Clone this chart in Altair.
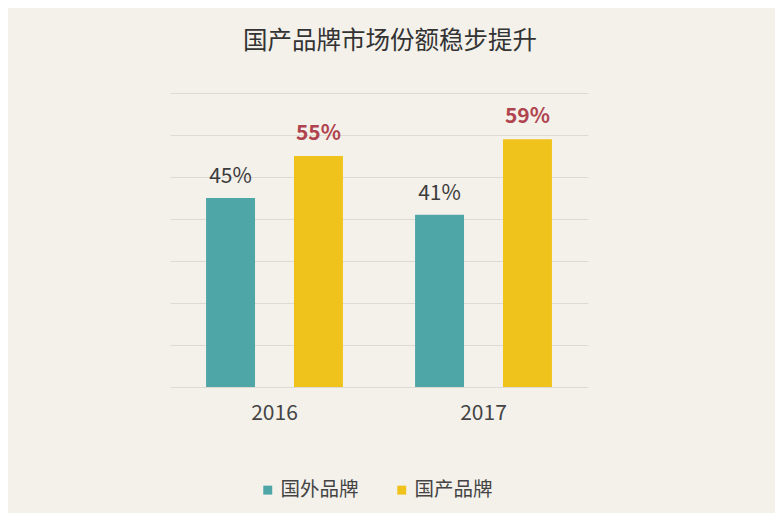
import altair as alt
import pandas as pd

years = ["2016", "2016", "2017", "2017"]
series = ["国外品牌", "国产品牌", "国外品牌", "国产品牌"]
values = [45, 55, 41, 59]
labels = ["45%", "55%", "41%", "59%"]

df = pd.DataFrame({"year": years, "series": series, "value": values, "label": labels})

FONT = "Noto Sans CJK SC"
order = ["国外品牌", "国产品牌"]

base = alt.Chart(df).encode(
    x=alt.X("year:N", title=None,
            scale=alt.Scale(paddingInner=0, paddingOuter=0),
            axis=alt.Axis(labelAngle=0, labelFontSize=21, labelColor="#444444",
                          labelFont=FONT, labelPadding=15, ticks=False, domain=False,
                          grid=False)),
    xOffset=alt.XOffset("series:N", sort=order,
                        scale=alt.Scale(paddingInner=0.443, paddingOuter=0.41)),
)

bars = base.mark_bar().encode(
    y=alt.Y("value:Q", title=None,
            scale=alt.Scale(domain=[0, 70]),
            axis=alt.Axis(values=[0, 10, 20, 30, 40, 50, 60, 70], labels=False,
                          ticks=False, domain=False, grid=True,
                          gridColor="#dddad3", gridWidth=1)),
    color=alt.Color("series:N", sort=order,
                    scale=alt.Scale(domain=order, range=["#4fa6a6", "#f0c21c"]),
                    legend=alt.Legend(title=None, orient="none", direction="horizontal",
                                      legendX=88, legendY=387,
                                      symbolType="square", symbolSize=80,
                                      symbolStrokeWidth=0,
                                      labelFontSize=19.5, labelFont=FONT,
                                      labelColor="#444444", columnPadding=33,
                                      labelOffset=3)),
)

text_foreign = base.transform_filter(alt.datum.series == "国外品牌").mark_text(
    baseline="bottom", dy=-11, fontSize=21, font=FONT, color="#3c3c3c"
).encode(y=alt.Y("value:Q"), text="label:N")

text_domestic = base.transform_filter(alt.datum.series == "国产品牌").mark_text(
    baseline="bottom", dy=-12, fontSize=21, font=FONT, color="#b0444e", fontWeight=600
).encode(y=alt.Y("value:Q"), text="label:N")

chart = alt.layer(bars, text_foreign, text_domestic).properties(
    width=418,
    height=294,
    autosize=alt.AutoSizeParams(type="none"),
    padding={"left": 162, "top": 85, "right": 187, "bottom": 126},
    background="#f4f1eb",
    title=alt.TitleParams("国产品牌市场份额稳步提升", font=FONT, fontSize=24.5,
                          fontWeight="normal", color="#333333", offset=39, dx=11,
                          anchor="middle"),
).configure_view(stroke=None)

chart.save("out.html", embed_options={"renderer": "svg", "actions": False})
